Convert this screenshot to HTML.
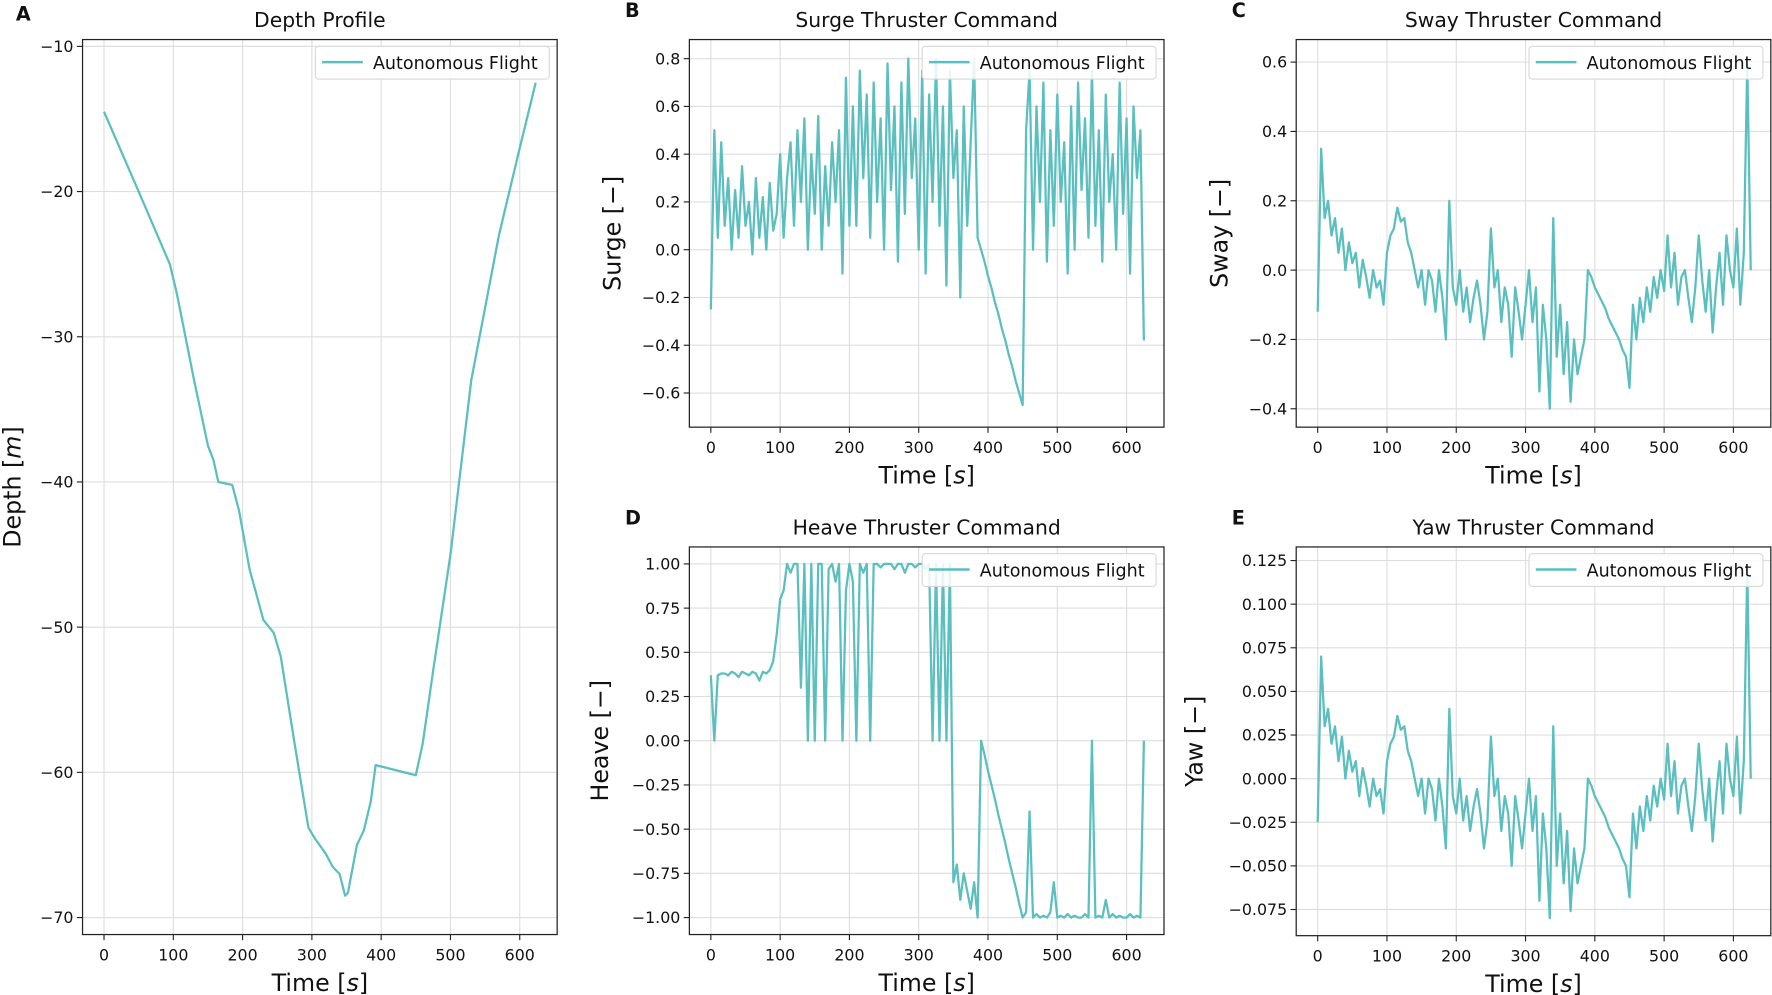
<!DOCTYPE html>
<html><head><meta charset="utf-8"><style>
html,body{margin:0;padding:0;background:#fff;}
svg{display:block;font-family:"DejaVu Sans","Liberation Sans",sans-serif;}
</style></head><body>
<svg id="fig" width="1772" height="995" viewBox="0 0 1568 880.5" xmlns="http://www.w3.org/2000/svg"></svg>
<script>
const xTicks = [0,100,200,300,400,500,600];
const depthTimes = [0,50,95,105,130,150,158,165,185,195,210,230,245,255,275,295,305,320,330,340,348,352,365,375,385,392,450,460,475,500,530,550,570,600,623];
const depthValues = [-14.5,-20,-25,-27,-33,-37.5,-38.5,-40,-40.2,-42,-46,-49.5,-50.4,-52,-58,-63.8,-64.6,-65.6,-66.5,-67,-68.5,-68.3,-65,-64,-62,-59.5,-60.2,-58,-53,-45,-33,-28,-23,-17,-12.5];
const sampleStep = [5];
const surgeValues = [-0.25,0.5,0.05,0.45,
0.1,0.3,0.0,0.25,0.05,0.35,0.1,0.2,-0.02,0.3,0.05,0.22,0.0,0.28,0.08,0.15,
0.4,0.05,0.3,0.45,0.1,0.5,0.2,0.55,0.0,0.4,0.15,0.56,0.0,0.35,0.1,0.45,0.2,0.5,
-0.1,0.72,0.1,
0.6,0.1,0.75,0.3,0.65,0.05,0.7,0.2,0.55,0.0,0.78,0.25,0.6,-0.05,0.7,0.15,0.8,0.3,0.55,0.0,0.75,-0.1,0.65,0.2,0.8,0.1,0.6,-0.15,0.75,0.3,0.5,-0.2,0.6,0.1,0.45,
0.8,0.05,
0.0,-0.05,-0.11,-0.16,-0.22,-0.27,-0.33,-0.38,-0.44,-0.49,-0.55,-0.6,
-0.65,
0.5,0.75,0.0,0.6,0.2,0.7,-0.05,0.5,0.1,0.65,0.2,0.45,-0.1,0.6,0.0,0.7,0.25,0.55,0.05,0.75,0.1,0.5,-0.05,0.65,0.2,0.4,0.0,0.7,0.15,0.55,-0.1,0.6,0.3,
0.5,-0.38];
const swayValues = [-0.12,0.35,0.15,0.2,
0.1,0.15,0.05,0.12,0.0,0.08,0.02,0.05,-0.05,0.03,-0.02,-0.08,0.0,-0.05,-0.03,-0.1,
0.05,0.1,0.12,0.18,0.14,0.15,0.08,0.05,
0.0,-0.05,0.0,-0.1,0.0,-0.03,-0.12,0.0,-0.08,-0.2,
0.2,-0.05,-0.1,0.0,-0.12,-0.05,-0.15,-0.08,-0.03,-0.1,-0.2,-0.12,0.12,-0.05,
0.0,-0.15,-0.05,-0.1,-0.25,-0.05,-0.12,-0.2,-0.1,0.0,-0.15,-0.05,-0.35,-0.1,-0.2,-0.4,0.15,-0.25,-0.1,-0.3,-0.15,-0.38,-0.2,-0.3,-0.25,-0.2,
0.0,-0.02,-0.05,-0.07,-0.09,-0.11,-0.14,-0.16,-0.18,-0.2,-0.23,-0.25,-0.34,
-0.1,-0.2,-0.08,-0.15,-0.05,-0.12,-0.02,-0.08,0.0,-0.06,0.1,-0.05,0.05,-0.1,-0.02,0.0,-0.08,-0.15,-0.05,0.1,-0.03,-0.12,0.0,-0.18,-0.05,0.05,-0.1,0.1,0.0,-0.05,0.12,-0.1,0.05,0.6,0.0];
const heaveValues = [0.37,0.0,0.37,0.38,
0.38,0.37,0.39,0.38,0.36,0.39,0.38,0.37,0.39,0.38,0.34,0.39,0.38,0.4,
0.45,0.6,0.8,0.85,
1.0,0.95,1.0,1.0,0.3,1.0,0.0,1.0,0.0,1.0,1.0,0.0,0.97,1.0,0.9,1.0,0.0,0.85,1.0,0.9,0.0,1.0,0.95,1.0,0.0,1.0,1.0,0.98,1.0,1.0,1.0,0.97,1.0,1.0,0.95,1.0,1.0,0.98,1.0,1.0,0.97,1.0,
0.0,1.0,0.0,1.0,0.0,
1.0,-0.8,-0.7,-0.9,-0.75,-0.85,-0.95,-0.8,-1.0,
0.0,-0.08,-0.17,-0.25,-0.33,-0.42,-0.5,-0.58,-0.67,-0.75,-0.83,-0.92,-1.0,
-0.97,-0.4,-1.0,-0.98,-1.0,-0.99,-1.0,-0.97,-0.8,-1.0,-0.99,-1.0,-0.98,-1.0,-0.99,-1.0,-1.0,-0.98,-1.0,0.0,-1.0,-0.99,-1.0,-0.9,-1.0,-0.98,-1.0,-0.99,-1.0,-1.0,-0.98,-1.0,-0.99,-1.0,0.0];
const yawValues = [-0.025,0.07,0.03,0.04,
0.02,0.03,0.01,0.024,0.0,0.016,0.004,0.01,-0.01,0.006,-0.004,-0.016,0.0,-0.01,-0.006,-0.02,
0.01,0.02,0.024,0.036,0.028,0.03,0.016,0.01,
0.0,-0.01,0.0,-0.02,0.0,-0.006,-0.024,0.0,-0.016,-0.04,
0.04,-0.01,-0.02,0.0,-0.024,-0.01,-0.03,-0.016,-0.006,-0.02,-0.04,-0.024,0.024,-0.01,
0.0,-0.03,-0.01,-0.02,-0.05,-0.01,-0.024,-0.04,-0.02,0.0,-0.03,-0.01,-0.07,-0.02,-0.04,-0.08,0.03,-0.05,-0.02,-0.06,-0.03,-0.076,-0.04,-0.06,-0.05,-0.04,
0.0,-0.004,-0.01,-0.014,-0.018,-0.022,-0.028,-0.032,-0.036,-0.04,-0.046,-0.05,-0.068,
-0.02,-0.04,-0.016,-0.03,-0.01,-0.024,-0.004,-0.016,0.0,-0.012,0.02,-0.01,0.01,-0.02,-0.004,0.0,-0.016,-0.03,-0.01,0.02,-0.006,-0.024,0.0,-0.036,-0.01,0.01,-0.02,0.02,0.0,-0.01,0.024,-0.02,0.01,0.12,0.0];
const depthTicks = [-10,-20,-30,-40,-50,-60,-70];
const surgeTicks = [0.8,0.6,0.4,0.2,0.0,-0.2,-0.4,-0.6];
const swayTicks = [0.6,0.4,0.2,0.0,-0.2,-0.4];
const heaveTicks = [1,0.75,0.5,0.25,0,-0.25,-0.5,-0.75,-1];
const yawTicks = [0.125,0.1,0.075,0.05,0.025,0,-0.025,-0.05,-0.075];

const NS='http://www.w3.org/2000/svg';
const svg=document.getElementById('fig');
const COLOR='#5bbfbf';
function mk(tag,attrs,parent){const e=document.createElementNS(NS,tag);for(const k in attrs)e.setAttribute(k,attrs[k]);(parent||svg).appendChild(e);return e;}
function fmt(v,d){const s=Math.abs(v).toFixed(d);return (v<0?'\u2212':'')+s;}

function panel(o){
  const g=mk('g',{});
  
  
  const L=o.box[0],R=o.box[1],T=o.box[2],B=o.box[3];
  const xd=[-31,654];
  const X=v=>L+(v-xd[0])/(xd[1]-xd[0])*(R-L);
  const Y=v=>T+(o.yd[1]-v)/(o.yd[1]-o.yd[0])*(B-T);
  // grid
  xTicks.forEach(t=>{const l=mk('line',{x1:X(t),x2:X(t),y1:T,y2:B,stroke:'#dedede','stroke-width':1},g);
    });
  o.ticks.forEach(t=>{const l=mk('line',{x1:L,x2:R,y1:Y(t),y2:Y(t),stroke:'#dedede','stroke-width':1},g);
    });
  // series
  const pts=o.ts.map((t,i)=>X(t).toFixed(2)+','+Y(o.vs[i]).toFixed(2)).join(' ');
  const pl=mk('polyline',{points:pts,fill:'none',stroke:COLOR,'stroke-width':2,'stroke-linejoin':'round'},g);
  
  
  // frame
  const fr=mk('rect',{x:L,y:T,width:R-L,height:B-T,fill:'none',stroke:'#222','stroke-width':1.1},g);
  
  // x ticks
  xTicks.forEach(t=>{mk('line',{x1:X(t),x2:X(t),y1:B,y2:B+5,stroke:'#222'},g);
    const tx=mk('text',{x:X(t),y:B+23,'font-size':14,'text-anchor':'middle',fill:'#111'},g);tx.textContent=t;
    });
  o.ticks.forEach(t=>{mk('line',{x1:L-5,x2:L,y1:Y(t),y2:Y(t),stroke:'#222'},g);
    const tx=mk('text',{x:L-8,y:Y(t)+5,'font-size':14,'text-anchor':'end',fill:'#111'},g);tx.textContent=fmt(t,o.dec);
    });
  // x label
  const xl=mk('text',{x:(L+R)/2,y:B+50,'font-size':21,'text-anchor':'middle',fill:'#111'},g);
  xl.innerHTML='Time [<tspan font-style="italic">s</tspan>]';
  
  const yl=mk('text',{x:0,y:0,'font-size':21,'text-anchor':'middle',fill:'#111',transform:`translate(${o.ylx},${(T+B)/2}) rotate(-90)`},g);
  yl.innerHTML=o.ylabel;
  
  const ti=mk('text',{x:(L+R)/2,y:T-11,'font-size':18,'text-anchor':'middle',fill:'#111'},g);
  ti.textContent=o.title;
  
  const le=mk('text',{x:o.letter[0],y:o.letter[1],'font-size':17,'font-weight':'bold',fill:'#111'},g);
  le.textContent=o.letterText;
  
  // legend
  const lg=mk('g',{},g);
  
  mk('rect',{x:R-214,y:T+6,width:207,height:29,rx:3,fill:'#fff','fill-opacity':0.85,stroke:'#d8d8d8'},lg);
  const ll=mk('line',{x1:R-208,x2:R-172,y1:T+20,y2:T+20,stroke:COLOR,'stroke-width':2.2},lg);
  
  const lt=mk('text',{x:R-163,y:T+26,'font-size':15.5,fill:'#111'},lg);lt.textContent='Autonomous Flight';
  
}
const sampleTimes=surgeValues.map((_,i)=>i*sampleStep[0]);
panel({name:'depth',box:[73,493,35,827],yd:[-71.17,-9.53],ticks:depthTicks,dec:0,ts:depthTimes,vs:depthValues,
  ylabel:'Depth [<tspan font-style="italic">m</tspan>]',ylx:18,title:'Depth Profile',letter:[14,18],letterText:'A'});
panel({name:'surge',box:[610,1030,35,378],yd:[-0.743,0.88],ticks:surgeTicks,dec:1,ts:sampleTimes,vs:surgeValues,
  ylabel:'Surge [\u2212]',ylx:549,title:'Surge Thruster Command',letter:[553,15],letterText:'B'});
panel({name:'sway',box:[1147,1567,35,378],yd:[-0.453,0.665],ticks:swayTicks,dec:1,ts:sampleTimes,vs:swayValues,
  ylabel:'Sway [\u2212]',ylx:1086,title:'Sway Thruster Command',letter:[1090,15],letterText:'C'});
panel({name:'heave',box:[610,1030,484,827],yd:[-1.096,1.096],ticks:heaveTicks,dec:2,ts:sampleTimes,vs:heaveValues,
  ylabel:'Heave [\u2212]',ylx:538,title:'Heave Thruster Command',letter:[553,464],letterText:'D'});
panel({name:'yaw',box:[1147,1567,484,828],yd:[-0.090,0.1328],ticks:yawTicks,dec:3,ts:sampleTimes,vs:yawValues,
  ylabel:'Yaw [\u2212]',ylx:1064,title:'Yaw Thruster Command',letter:[1090,464],letterText:'E'});
</script>
</body></html>
